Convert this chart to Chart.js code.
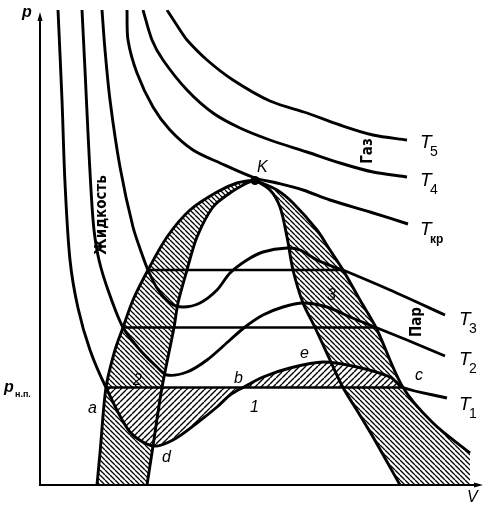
<!DOCTYPE html>
<html>
<head>
<meta charset="utf-8">
<script src="https://cdn.jsdelivr.net/npm/chart.js@4.4.1/dist/chart.umd.min.js"></script>
<style>
  html, body { margin: 0; background: #fff; }
  canvas { display: block; }
</style>
</head>
<body>
<canvas id="pvChart" width="489" height="511"></canvas>
<script>
// Изотермы Ван-дер-Ваальса, точки [V, p] в условных единицах
const isoT5 = [[31.75,95],[35,91],[36.75,89],[41.75,85],[48.25,81],[57.5,76.8],[66.75,74.4],[75,72],[83.25,70],[91.75,69]];
const isoT4 = [[25.75,95],[28,89],[30.75,85],[36.75,79],[43.25,74.4],[50,71.4],[57.5,69],[66.75,66.6],[75,64.4],[83.25,62.6],[91.75,61.6]];
const isoTkr = [[21.75,95],[22,89],[24.25,82.4],[28.25,75.6],[32.5,71],[38.25,67],[45,64.4],[53.75,61.4],[59.25,60.4],[65.75,59],[72.5,57],[82.5,54.6],[92,52.2]];
const isoT3 = [[15.5,95],[16.25,87],[17.5,77],[20,63.6],[23.25,51.6],[25.75,45.6],[27,43],[29.25,39.4],[32.5,36.4],[35.75,35.6],[40,36.4],[44.25,39],[47.5,42.4],[51.75,45],[55.75,46.6],[61.75,47.4],[65,47],[69.25,45],[74.25,43.4],[75.75,43],[87.5,39],[101.25,34]];
const isoT2 = [[10.5,95],[11.25,83],[12,70.4],[12.75,59],[13.5,51],[14.75,45],[17,39],[20.75,31.5],[25,27],[29.25,23.6],[31.75,22],[36.75,22.6],[41.75,25],[47.5,29],[51.25,31.6],[55.75,34],[60.75,35.6],[65.75,36.4],[71.75,35.6],[77.5,33.6],[84,31.5],[91.75,29],[101.25,25.8]];
const isoT1 = [[4.5,95],[5.5,77],[6.25,60.4],[7.5,45],[9.5,35.4],[12.5,27],[16.5,19.5],[22.5,10.6],[28.25,7.8],[33.25,9],[39.25,12.4],[44.25,15.6],[47.5,18],[50.75,19.5],[55.75,21.6],[62.5,23.4],[70.75,24.6],[79.25,23.6],[87.5,21.6],[90.75,19.5],[101.75,17.4]];

// горизонтальные участки (давление насыщенного пара)
const tieT1 = [[16.5,19.5],[90.75,19.5]];
const tieT2 = [[20.75,31.5],[84,31.5]];
const tieT3 = [[27,43],[75.75,43]];

// бинодаль и спинодаль
const binodalLeft = [[14.25,0],[15,6.4],[16.5,19.5],[18.75,27],[20.75,31.5],[23.25,37],[27,43],[31.75,49.6],[37.5,55],[44.25,58.6],[49.25,60.4],[53.75,61]];
const binodalRight = [[53.75,61],[59.25,59],[63.25,56.4],[69.25,51],[72.5,47],[75.75,43],[80,37],[84,31.5],[90.75,19.5],[98.25,12.4],[107.5,6.4]];
const spinodalLeft = [[26.75,0],[28.25,7.8],[30.5,19.5],[33.5,31.5],[34.5,36.4],[36.75,43],[39.25,49.6],[43.25,55.6],[47.5,58.4],[51.75,60.4],[53.75,61]];
const spinodalRight = [[53.75,61],[57.5,59],[60,55.6],[61.75,49.6],[63.25,43],[65.75,36.4],[68.75,31.5],[72.5,25],[75.75,19.5],[79.5,14.6],[83.25,9.6],[90,0]];
const bandRightFoot = [[107.5,0],[90,0]];
const critical = [[53.75,60.9]];

// подписи
const isoLabels = [
  { sub: '5', v: 95, p: 67.4 },
  { sub: '4', v: 95, p: 59.8 },
  { sub: 'кр', v: 95, p: 50 },
  { sub: '3', v: 104.75, p: 32 },
  { sub: '2', v: 104.75, p: 24 },
  { sub: '1', v: 104.75, p: 15 }
];
const pointLabels = [
  { text: 'K', v: 54.25, p: 62.6 },
  { text: 'a', v: 12, p: 14.4 },
  { text: 'b', v: 48.5, p: 20.4 },
  { text: 'c', v: 93.75, p: 21 },
  { text: 'd', v: 30.5, p: 4.6 },
  { text: 'e', v: 65, p: 25.4 },
  { text: '1', v: 52.5, p: 14.6 },
  { text: '2', v: 23.25, p: 20 },
  { text: '3', v: 71.75, p: 37 },
  { text: 'V', v: 106.75, p: -3.4 }
];
const phaseLabels = [
  { text: 'Жидкость', v: 15.5, p: 54 },
  { text: 'Газ', v: 82, p: 66.8 },
  { text: 'Пар', v: 94.25, p: 32.6 }
];

const xy = pts => pts.map(([x, y]) => ({ x, y }));

function makeHatch(step, slash, width, bg) {
  const tile = document.createElement('canvas');
  tile.width = step;
  tile.height = step;
  const c = tile.getContext('2d');
  if (bg) {
    c.fillStyle = bg;
    c.fillRect(0, 0, step, step);
  }
  c.strokeStyle = '#000';
  c.lineWidth = width;
  c.beginPath();
  for (let k = -1; k <= 1; k++) {
    if (slash) {
      c.moveTo(k * step, step);
      c.lineTo(k * step + step, 0);
    } else {
      c.moveTo(k * step, 0);
      c.lineTo(k * step + step, step);
    }
  }
  c.stroke();
  return c.createPattern(tile, 'repeat');
}

const bandHatch = makeHatch(5, false, 1.3, null);
const areaHatch = makeHatch(6, true, 1.4, '#fff');

const curve = (pts, extra) => Object.assign({
  data: xy(pts),
  borderColor: '#000',
  borderWidth: 2.9,
  pointRadius: 0,
  tension: 0.3,
  fill: false
}, extra || {});

const shape = (pts, pattern, tension) => ({
  data: xy(pts),
  borderColor: 'rgba(0,0,0,0)',
  borderWidth: 1,
  pointRadius: 0,
  tension: tension,
  backgroundColor: pattern,
  fill: 'shape'
});

const bandLeft = binodalLeft.concat(spinodalLeft.slice(0, -1).reverse());
const bandRight = binodalRight.concat(bandRightFoot, spinodalRight.slice(1, -1).reverse());
const areaLow = isoT1.slice(6, 14);
const areaHigh = isoT1.slice(13, 20);

const axesAndText = {
  id: 'axesAndText',
  afterDatasetsDraw(chart) {
    const { ctx, scales: { x, y } } = chart;
    const px = v => x.getPixelForValue(v);
    const py = p => y.getPixelForValue(p);
    ctx.save();
    ctx.strokeStyle = '#000';
    ctx.fillStyle = '#000';
    ctx.lineWidth = 2;

    // оси со стрелками
    const ox = px(0), oy = py(0), topY = py(94.6), endX = px(110.75);
    ctx.beginPath();
    ctx.moveTo(ox, topY + 4);
    ctx.lineTo(ox, oy);
    ctx.lineTo(endX - 4, oy);
    ctx.stroke();
    ctx.beginPath();
    ctx.moveTo(ox, topY);
    ctx.lineTo(ox - 2.5, topY + 9);
    ctx.lineTo(ox + 2.5, topY + 9);
    ctx.closePath();
    ctx.fill();
    ctx.beginPath();
    ctx.moveTo(endX, oy);
    ctx.lineTo(endX - 9, oy - 2.5);
    ctx.lineTo(endX - 9, oy + 2.5);
    ctx.closePath();
    ctx.fill();

    ctx.textBaseline = 'alphabetic';
    ctx.textAlign = 'left';

    ctx.font = 'bold italic 16px "Liberation Sans"';
    ctx.fillText('p', px(-4.5), py(93.6));
    ctx.fillText('p', px(-9), py(18.6));
    ctx.font = 'bold 9px "Liberation Sans"';
    ctx.fillText('н.п.', px(-6.25), py(17.6));

    isoLabels.forEach(l => {
      ctx.font = 'italic 19px "Liberation Sans"';
      ctx.fillText('T', px(l.v), py(l.p));
      ctx.font = (l.sub === 'кр' ? 'bold 12px' : '14px') + ' "Liberation Sans"';
      ctx.fillText(l.sub, px(l.v) + 10, py(l.p) + 8);
    });

    ctx.font = 'italic 16px "Liberation Sans"';
    pointLabels.forEach(l => ctx.fillText(l.text, px(l.v), py(l.p)));

    ctx.font = 'bold 15px "DejaVu Sans Condensed", "DejaVu Sans"';
    ctx.textAlign = 'center';
    ctx.textBaseline = 'middle';
    phaseLabels.forEach(l => {
      ctx.save();
      ctx.translate(px(l.v), py(l.p));
      ctx.rotate(-Math.PI / 2);
      ctx.fillText(l.text, 0, 0);
      ctx.restore();
    });
    ctx.restore();
  }
};

new Chart(document.getElementById('pvChart'), {
  type: 'line',
  data: {
    datasets: [
      curve(critical, { pointRadius: 4.5, pointBackgroundColor: '#000', borderWidth: 0, showLine: false }),
      curve(isoT5), curve(isoT4), curve(isoTkr), curve(isoT3), curve(isoT2), curve(isoT1),
      curve(tieT1, { tension: 0, borderWidth: 2.5 }),
      curve(tieT2, { tension: 0, borderWidth: 2.5 }),
      curve(tieT3, { tension: 0, borderWidth: 2.5 }),
      curve(binodalLeft), curve(binodalRight), curve(spinodalLeft), curve(spinodalRight),
      shape(areaLow, areaHatch, 0.3),
      shape(areaHigh, areaHatch, 0.3),
      shape(bandLeft, bandHatch, 0),
      shape(bandRight, bandHatch, 0)
    ]
  },
  options: {
    responsive: false,
    animation: false,
    layout: { padding: { left: 40, right: 9, top: 10, bottom: 26 } },
    scales: {
      x: { type: 'linear', min: 0, max: 110, display: false },
      y: { type: 'linear', min: 0, max: 95, display: false }
    },
    plugins: {
      legend: { display: false },
      tooltip: { enabled: false }
    }
  },
  plugins: [axesAndText]
});
</script>
</body>
</html>
